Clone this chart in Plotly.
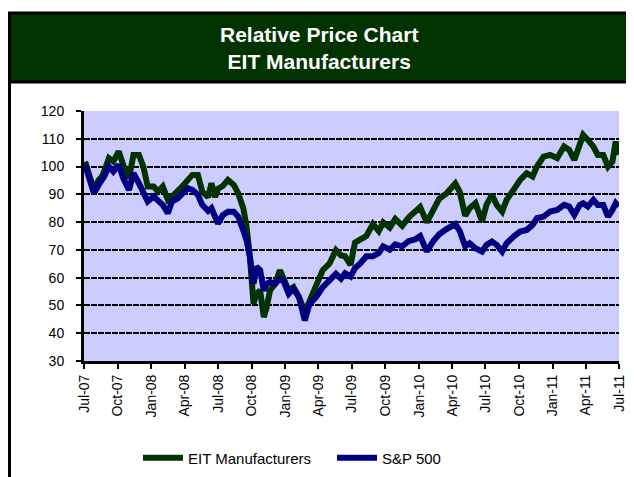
"""
Relative price chart: EIT Manufacturers vs S&P 500
"""
import plotly.graph_objects as go

dates = [
    "2007-07-04", "2007-07-14", "2007-07-28", "2007-08-10", "2007-08-19", "2007-08-25",
    "2007-09-07", "2007-09-19", "2007-10-04", "2007-10-16", "2007-11-01", "2007-11-13",
    "2007-11-28", "2007-12-10", "2007-12-22", "2008-01-07", "2008-01-19", "2008-02-01",
    "2008-02-15", "2008-02-26", "2008-03-13", "2008-03-25", "2008-04-10", "2008-04-22",
    "2008-05-07", "2008-05-19", "2008-06-04", "2008-06-13", "2008-06-23", "2008-07-01",
    "2008-07-14", "2008-07-28", "2008-08-13", "2008-08-25", "2008-09-08", "2008-09-17",
    "2008-09-26", "2008-10-01", "2008-10-06", "2008-10-14", "2008-10-24", "2008-11-03",
    "2008-11-11", "2008-11-20", "2008-12-04", "2008-12-17", "2008-12-26", "2009-01-10",
    "2009-01-23", "2009-02-07", "2009-02-23", "2009-03-08", "2009-03-26", "2009-04-13",
    "2009-05-01", "2009-05-19", "2009-06-02", "2009-06-13", "2009-06-28", "2009-07-10",
    "2009-07-25", "2009-08-10", "2009-08-28", "2009-09-13", "2009-09-25", "2009-10-13",
    "2009-10-28", "2009-11-16", "2009-12-04", "2009-12-22", "2010-01-04", "2010-01-22",
    "2010-02-09", "2010-02-25", "2010-03-16", "2010-04-10", "2010-04-22", "2010-05-07",
    "2010-05-19", "2010-06-04", "2010-06-22", "2010-07-04", "2010-07-19", "2010-08-01",
    "2010-08-16", "2010-08-28", "2010-09-16", "2010-10-04", "2010-10-22", "2010-11-07",
    "2010-11-19", "2010-12-07", "2010-12-25", "2011-01-13", "2011-02-01", "2011-02-15",
    "2011-03-01", "2011-03-16", "2011-03-25", "2011-04-07", "2011-04-22", "2011-05-04",
    "2011-05-19", "2011-06-01", "2011-06-13", "2011-06-22", "2011-06-30",
]

eit = [
    101.8, 97.6, 91.6, 95.2, 96.4, 98.2,
    103.0, 101.8, 105.4, 100.6, 95.8, 104.2,
    104.2, 100.0, 92.8, 92.8, 91.0, 92.8,
    88.0, 89.2, 91.0, 92.8, 95.2, 97.0,
    97.0, 91.0, 89.0, 94.0, 89.0, 92.0,
    93.0, 95.2, 93.4, 90.4, 85.0, 78.3,
    67.5, 60.2, 50.6, 54.2, 55.4, 45.8,
    49.4, 55.4, 57.8, 62.7, 60.2, 55.4,
    56.6, 53.0, 47.6, 51.8, 56.6, 62.7,
    65.0, 69.9, 68.0, 67.7, 64.6, 72.6,
    73.8, 75.0, 79.3, 76.8, 79.9, 78.0,
    81.1, 78.7, 81.7, 83.5, 85.4, 79.9,
    84.1, 88.4, 90.2, 93.9, 90.9, 82.3,
    85.0, 86.8, 80.2, 86.2, 89.8, 86.2,
    83.8, 88.0, 91.6, 95.2, 97.6, 96.4,
    100.0, 103.6, 104.2, 103.0, 107.2, 106.0,
    102.4, 109.0, 111.4, 109.6, 107.2, 104.2,
    104.2, 100.0, 101.8, 109.0, 104.2,
]

sp500 = [
    100.6, 95.8, 90.4, 93.4, 95.2, 96.4,
    100.0, 98.2, 100.6, 95.8, 91.6, 97.6,
    94.0, 90.4, 87.4, 89.2, 88.0, 86.2,
    83.2, 87.4, 88.6, 90.4, 92.2, 91.6,
    89.8, 86.2, 84.0, 85.0, 81.0, 79.5,
    82.5, 83.7, 83.7, 82.0, 77.0, 73.5,
    67.5, 61.0, 57.8, 63.9, 62.7, 55.4,
    57.8, 58.4, 57.8, 59.6, 59.0, 54.2,
    56.0, 53.0, 44.6, 50.6, 53.0, 56.6,
    59.0, 61.4, 59.6, 61.6, 60.4, 63.4,
    65.2, 67.7, 67.7, 68.9, 71.3, 70.1,
    72.0, 71.3, 73.2, 73.8, 75.0, 69.5,
    73.2, 75.6, 77.4, 79.3, 76.8, 71.3,
    72.4, 70.6, 69.4, 71.8, 73.0, 71.8,
    69.4, 72.4, 74.8, 76.6, 77.2, 79.0,
    81.4, 82.0, 83.8, 84.4, 86.2, 85.6,
    82.6, 86.2, 86.8, 85.6, 88.0, 86.2,
    86.2, 82.0, 84.4, 86.8, 85.6,
]

# the page body has an 8px margin, so the figure starts at (8, 8)
OFF = 8
PAGE_W, PAGE_H = 634, 477
W, H = PAGE_W - OFF, PAGE_H - OFF
# plot area in page pixels
L, R, T, B = 84, 619, 111, 361


def px(x):
    return (x - L) / (R - L)


def py(y):
    return (B - y) / (B - T)


fig = go.Figure()
fig.add_trace(go.Scatter(x=dates, y=eit, name="EIT Manufacturers", mode="lines",
                         line=dict(color="#003300", width=6), legend="legend"))
fig.add_trace(go.Scatter(x=dates, y=sp500, name="S&P 500", mode="lines",
                         line=dict(color="#000080", width=6), legend="legend2"))

shapes = [
    # title band
    dict(type="rect", xref="paper", yref="paper", x0=px(9.5), x1=px(660), y0=py(82), y1=py(13),
         fillcolor="#003300", line=dict(color="black", width=3), layer="below"),
    # outer left border
    dict(type="line", xref="paper", yref="paper", x0=px(9.5), x1=px(9.5), y0=py(13), y1=py(490),
         line=dict(color="black", width=3)),
]

leg_style = dict(orientation="h", yanchor="middle", xanchor="left", font=dict(size=15),
                 itemwidth=40, bgcolor="rgba(0,0,0,0)")

fig.update_layout(
    width=W, height=H, autosize=False,
    margin=dict(l=L - OFF, r=PAGE_W - R, t=T - OFF, b=PAGE_H - B, autoexpand=False),
    paper_bgcolor="white", plot_bgcolor="#CCCCFF",
    font=dict(family="Arial, Liberation Sans, sans-serif", size=14, color="black"),
    showlegend=True,
    legend=dict(x=px(138), y=py(458), **leg_style),
    legend2=dict(x=px(332), y=py(458), **leg_style),
    shapes=shapes,
    annotations=[
        dict(text="<b>Relative Price Chart</b><br><b>EIT Manufacturers</b>", xref="paper",
             yref="paper", x=px(319), y=py(48), xanchor="center", yanchor="middle",
             showarrow=False, font=dict(color="white", size=21), align="center"),
    ],
)

fig.update_xaxes(
    range=["2007-07-01", "2011-07-01"], dtick="M3", tick0="2007-07-01", tickformat="%b-%y",
    tickangle=-90, ticks="outside", ticklen=5, tickwidth=2, tickcolor="black",
    showline=True, linecolor="black", linewidth=3, showgrid=False, zeroline=False,
    automargin=False, tickfont=dict(size=14), ticklabeloverflow="allow",
)
fig.update_yaxes(
    range=[30, 120], dtick=10, ticks="outside", ticklen=5, tickwidth=2, tickcolor="black",
    showline=True, linecolor="black", linewidth=3, ticklabelstandoff=9,
    showgrid=True, gridcolor="black", gridwidth=2, griddash="6px,1px", zeroline=False,
    automargin=False, tickfont=dict(size=14),
)

fig.write_html("out.html")
